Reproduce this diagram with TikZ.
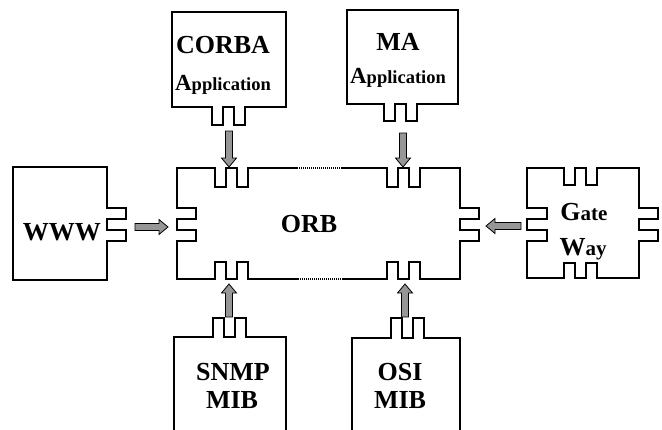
\documentclass[tikz,border=0pt]{standalone}
\usepackage{fontspec}
\setmainfont{Liberation Serif}
\usetikzlibrary{calc}
\definecolor{arrowgray}{RGB}{150,150,150}
\newcommand{\txtsize}[2]{{\fontsize{#1}{#1}\selectfont #2}}

\tikzset{
  outline/.style={line width=1.6pt, line join=miter, line cap=rect},
  dotline/.style={line width=1.2pt, dash pattern=on 1pt off 1pt},
  lbl/.style={font=\bfseries\fontsize{26}{28}\selectfont, inner sep=0pt, anchor=base},
  % two prongs or two holes on an edge
  jogR/.style={insert path={-- ++(0,#1) -- ++(11,0) -- ++(0,{-(#1)}) -- ++(11,0) -- ++(0,#1) -- ++(11,0) -- ++(0,{-(#1)})}},
  jogL/.style={insert path={-- ++(0,#1) -- ++(-11,0) -- ++(0,{-(#1)}) -- ++(-11,0) -- ++(0,#1) -- ++(-11,0) -- ++(0,{-(#1)})}},
  jogD/.style={insert path={-- ++(#1,0) -- ++(0,11) -- ++({-(#1)},0) -- ++(0,11) -- ++(#1,0) -- ++(0,11) -- ++({-(#1)},0)}},
  jogU/.style={insert path={-- ++(#1,0) -- ++(0,-11) -- ++({-(#1)},0) -- ++(0,-11) -- ++(#1,0) -- ++(0,-11) -- ++({-(#1)},0)}},
  flow/.style={draw=black, line width=0.8pt, fill=arrowgray, line join=miter, to path={
    ($(\tikztostart)!3.5pt!90:(\tikztotarget)$)
    -- ($(\tikztotarget)!9pt!(\tikztostart)!3.5pt!-90:(\tikztostart)$)
    -- ($(\tikztotarget)!9pt!(\tikztostart)!7.5pt!-90:(\tikztostart)$)
    -- (\tikztotarget)
    -- ($(\tikztotarget)!9pt!(\tikztostart)!7.5pt!90:(\tikztostart)$)
    -- ($(\tikztotarget)!9pt!(\tikztostart)!3.5pt!90:(\tikztostart)$)
    -- ($(\tikztostart)!3.5pt!-90:(\tikztotarget)$)
    -- cycle}}
}

\begin{document}
\begin{tikzpicture}[x=1pt, y=-1pt]
\useasboundingbox (0,0) rectangle (662,429);

% ORB in the middle
\draw[outline] (177,168) -- (215,168) [jogR=19] -- (297,168);
\draw[dotline] (297,168) -- (343,168);
\draw[outline] (343,168) -- (387,168) [jogR=19] -- (460,168) -- (460,208) [jogD=19] -- (460,279) -- (420,279) [jogL=-17] -- (343,279);
\draw[dotline] (343,279) -- (297,279);
\draw[outline] (297,279) -- (248,279) [jogL=-17] -- (177,279) -- (177,241) [jogU=19] -- (177,168);
\node[lbl] (orb) at (309,232) {ORB};

% top boxes
\draw[outline] (172,107) -- (172,12) -- (286,12) -- (286,107) -- (245,107) [jogL=18] -- cycle;
\node[lbl] (corba) at (223,53) {CORBA};
\node[lbl] (corbaapp) at (223,90) {\txtsize{23}{A}\txtsize{18.5}{pplication}};

\draw[outline] (347,104) -- (347,10) -- (458,10) -- (458,104) -- (417,104) [jogL=17] -- cycle;
\node[lbl] (ma) at (398,50) {MA};
\node[lbl] (maapp) at (398,83) {\txtsize{23}{A}\txtsize{18.5}{pplication}};

% left and right
\draw[outline] (13,167) -- (107,167) -- (107,208) [jogD=19] -- (107,280) -- (13,280) -- cycle;
\node[lbl] (www) at (62,240) {WWW};

\draw[outline] (527,168) -- (564,168) [jogR=17] -- (639,168) -- (639,208) [jogD=19] -- (639,278) -- (597,278) [jogL=-15] -- (527,278) -- (527,241) [jogU=20] -- cycle;
\node[lbl] (gate) at (584,220) {G\txtsize{21}{ate}};
\node[lbl] (way) at (583,255) {W\txtsize{21}{ay}};

% bottom boxes
\draw[outline] (174,429) -- (174,337) -- (213,337) [jogR=-19] -- (286,337) -- (286,429);
\node[lbl] (snmp) at (233,380) {SNMP};
\node[lbl] (snmpmib) at (232,408) {MIB};

\draw[outline] (352,429) -- (352,338) -- (391,338) [jogR=-20] -- (460,338) -- (460,429);
\node[lbl] (osi) at (400,380) {OSI};
\node[lbl] (osimib) at (400,408) {MIB};

% arrow ends
\coordinate (corbaout) at (229,131);
\coordinate (orbtopA) at (229,167);
\coordinate (maout) at (403,133);
\coordinate (orbtopB) at (403,167);
\coordinate (wwwout) at (135,227);
\coordinate (orbleft) at (168,227);
\coordinate (gateout) at (521,226);
\coordinate (orbright) at (486,226);
\coordinate (snmpout) at (229,317);
\coordinate (orbbotA) at (229,284);
\coordinate (osiout) at (405,317);
\coordinate (orbbotB) at (405,284);

\draw[flow] (corbaout) to (orbtopA);
\draw[flow] (maout) to (orbtopB);
\draw[flow] (wwwout) to (orbleft);
\draw[flow] (gateout) to (orbright);
\draw[flow] (snmpout) to (orbbotA);
\draw[flow] (osiout) to (orbbotB);
\end{tikzpicture}
\end{document}
